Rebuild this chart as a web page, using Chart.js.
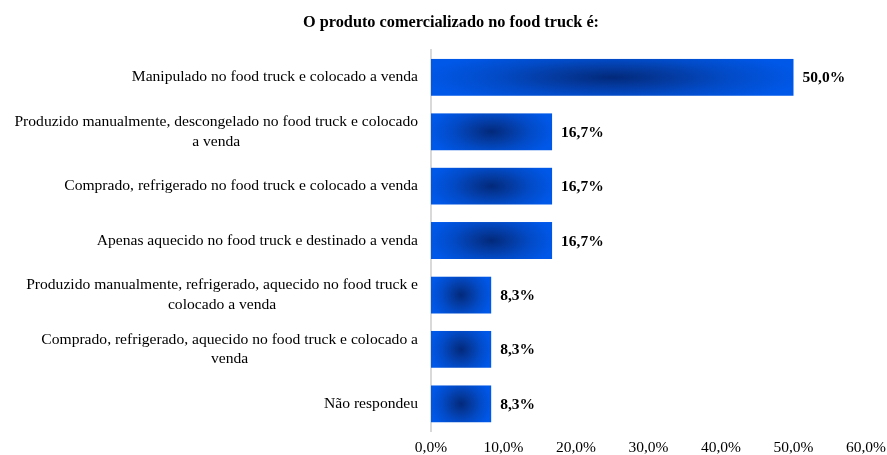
<!DOCTYPE html>
<html>
<head>
<meta charset="utf-8">
<script src="https://cdn.jsdelivr.net/npm/chart.js@4"></script>
<style>
  html, body { margin: 0; padding: 0; background: #ffffff; }
  #wrap { width: 887px; height: 455px; }
</style>
</head>
<body>
<div id="wrap"><canvas id="c" width="887" height="455"></canvas></div>
<script>
const chartTitle = 'O produto comercializado no food truck é:';
const categories = [
  ['Manipulado no food truck e colocado a venda'],
  ['Produzido manualmente, descongelado no food truck e colocado', 'a venda'],
  ['Comprado, refrigerado no food truck e colocado a venda'],
  ['Apenas aquecido no food truck e destinado a venda'],
  ['Produzido manualmente, refrigerado, aquecido no food truck e', 'colocado a venda'],
  ['Comprado, refrigerado, aquecido no food truck e colocado a', 'venda'],
  ['Não respondeu']
];
const percentValues = [50.0, 16.7, 16.7, 16.7, 8.3, 8.3, 8.3];
const axisMin = 0;
const axisMax = 60;
const axisStep = 10;

const FONT = "'Liberation Serif', 'Times New Roman', serif";
const fmt = v => Number(v).toFixed(1).replace('.', ',') + '%';
const BAR_FRAC = 0.68;

function barFill(context) {
  const chart = context.chart;
  const xs = chart.scales.x, ys = chart.scales.y;
  if (context.type !== 'data' || !xs || !ys || !chart.chartArea) return '#0055e6';
  const x0 = xs.getPixelForValue(0);
  const x1 = xs.getPixelForValue(context.raw);
  const yc = ys.getPixelForValue(context.dataIndex);
  const cat = Math.abs(ys.getPixelForValue(1) - ys.getPixelForValue(0));
  const h = cat * BAR_FRAC;
  const w = Math.max(1, x1 - x0);
  if (!isFinite(w) || !isFinite(h) || !isFinite(yc)) return '#0055e6';
  const off = document.createElement('canvas');
  off.width = Math.ceil(w) + 2;
  off.height = Math.ceil(h) + 2;
  const g = off.getContext('2d');
  const rx = w / 2 * 1.05;
  const ry = h / 2 * 1.6;
  g.translate(w / 2, h / 2);
  g.scale(rx / ry, 1);
  const grad = g.createRadialGradient(0, 0, 0, 0, 0, ry);
  grad.addColorStop(0, '#02297a');
  grad.addColorStop(0.3, '#043a9f');
  grad.addColorStop(0.62, '#024bc8');
  grad.addColorStop(1, '#0058e9');
  g.fillStyle = grad;
  g.fillRect(-ry * 3, -ry * 3, ry * 6, ry * 6);
  const pat = chart.ctx.createPattern(off, 'no-repeat');
  pat.setTransform(new DOMMatrix([1, 0, 0, 1, x0, yc - h / 2]));
  return pat;
}

const labelPlugin = {
  id: 'labelPlugin',
  afterDraw(chart) {
    const ctx = chart.ctx;
    const ys = chart.scales.y;
    ctx.save();
    ctx.fillStyle = '#000000';
    ctx.textBaseline = 'middle';
    // category labels
    ctx.font = "15.6px " + FONT;
    const rightEdge = chart.chartArea.left - 13;
    const lh = 19.5;
    categories.forEach((lines, i) => {
      const yc = ys.getPixelForValue(i);
      const maxW = Math.max(...lines.map(l => ctx.measureText(l).width));
      const cx = rightEdge - maxW / 2;
      ctx.textAlign = 'center';
      lines.forEach((l, k) => {
        const y = yc + (k - (lines.length - 1) / 2) * lh;
        ctx.fillText(l, cx, y);
      });
    });
    // value labels
    ctx.font = "bold 15.5px " + FONT;
    ctx.textAlign = 'left';
    const meta = chart.getDatasetMeta(0);
    meta.data.forEach((bar, i) => {
      ctx.fillText(fmt(percentValues[i]), bar.x + 9, bar.y + 1);
    });
    ctx.restore();
  }
};

new Chart(document.getElementById('c'), {
  type: 'bar',
  data: {
    labels: categories,
    datasets: [{
      data: percentValues,
      backgroundColor: barFill,
      borderWidth: 0,
      barPercentage: BAR_FRAC,
      categoryPercentage: 1.0
    }]
  },
  options: {
    indexAxis: 'y',
    responsive: false,
    animation: false,
    events: [],
    layout: { padding: { left: 15, right: 0, top: 0, bottom: 0 } },
    plugins: {
      legend: { display: false },
      tooltip: { enabled: false },
      title: {
        display: true,
        text: chartTitle,
        color: '#000000',
        font: { family: FONT, size: 16.3, weight: 'bold' },
        padding: { top: 13, bottom: 17.5 }
      }
    },
    scales: {
      x: {
        min: axisMin,
        max: axisMax,
        grid: { display: false, drawTicks: false },
        border: { display: false },
        ticks: {
          stepSize: axisStep,
          color: '#000000',
          padding: 8,
          font: { family: FONT, size: 15.5 },
          callback: v => fmt(v),
          maxRotation: 0
        },
        afterFit(scale) {
          scale.height = 24;
          scale.paddingRight = 21;
        }
      },
      y: {
        grid: { display: false, drawTicks: false },
        border: { display: true, color: '#d9d9d9', width: 2 },
        ticks: { display: false },
        afterFit(scale) { scale.width = 416; }
      }
    }
  },
  plugins: [labelPlugin]
});
</script>
</body>
</html>
